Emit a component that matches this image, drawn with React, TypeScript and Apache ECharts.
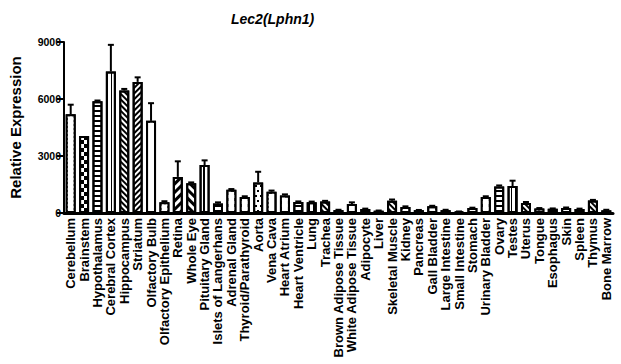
import React, { useEffect, useRef } from "react";
import * as echarts from "echarts";

const categories = [
  "Cerebellum", "Brainstem", "Hypothalamus", "Cerebral Cortex", "Hippocampus", "Striatum",
  "Olfactory Bulb", "Olfactory Epithelium", "Retina", "Whole Eye", "Pituitary Gland",
  "Islets of Langerhans", "Adrenal Gland", "Thyroid/Parathyroid", "Aorta", "Vena Cava",
  "Heart Atrium", "Heart Ventricle", "Lung", "Trachea", "Brown Adipose Tissue",
  "White Adipose Tissue", "Adipocyte", "Liver", "Skeletal Muscle", "Kidney", "Pancreas",
  "Gall Bladder", "Large Intestine", "Small Intestine", "Stomach", "Urinary Bladder",
  "Ovary", "Testes", "Uterus", "Tongue", "Esophagus", "Skin", "Spleen", "Thymus", "Bone Marrow",
];

const values = [
  5200, 4050, 5880, 7450, 6450, 6900, 4850, 560, 1900, 1560, 2520,
  500, 1220, 840, 1610, 1120, 920, 580, 570, 610, 150,
  470, 210, 120, 650, 310, 150, 350, 150, 70, 260, 840,
  1400, 1420, 520, 240, 220, 260, 210, 660, 140,
];

const errors = [
  500, 0, 40, 1400, 80, 240, 930, 60, 820, 50, 250,
  60, 40, 40, 560, 60, 60, 30, 30, 30, 20,
  90, 20, 10, 60, 40, 10, 30, 20, 10, 20, 40,
  50, 280, 60, 20, 20, 30, 20, 30, 30,
];

const yTicks = [0, 3000, 6000, 9000];

// fill styles (one per bar)
const patternNames = [
  "fineChecker", "checker", "hstripe", "vthin", "diagR", "diagL", "grid", "fineChecker",
  "wideDiagL", "wideDiagR", "vstripe", "hstripe", "blocks", "blocks", "dots", "denseDots",
  "blocks", "hstripe", "vstripe", "diagR", "solid", "grid", "hstripe", "solid", "diagR",
  "grid", "hstripe", "grid", "hstripe", "solid", "grid", "blocks", "hstripe", "vthin",
  "diagR", "grid", "hstripe", "grid", "hstripe", "diagR", "solid",
];

function decalFor(name: string): any {
  const k = "#000";
  switch (name) {
    case "fineChecker":
      return { symbol: "rect", symbolSize: 1, color: "#fff", backgroundColor: k, dashArrayX: [[1.5, 1.5], [0, 1.5, 1.5, 0]], dashArrayY: [1.5, 0] };
    case "checker":
      return { symbol: "rect", symbolSize: 1, color: k, backgroundColor: "#fff", dashArrayX: [[4, 4], [0, 4, 4, 0]], dashArrayY: [4, 0] };
    case "hstripe":
      return { symbol: "rect", symbolSize: 1, color: k, dashArrayX: [1, 0], dashArrayY: [2, 2.5] };
    case "vstripe":
      return { symbol: "rect", symbolSize: 1, color: k, dashArrayX: [1, 0], dashArrayY: [2, 2.5], rotation: Math.PI / 2 };
    case "vthin":
      return { symbol: "rect", symbolSize: 1, color: k, dashArrayX: [1, 0], dashArrayY: [1, 3], rotation: Math.PI / 2 };
    case "diagR":
      return { symbol: "rect", symbolSize: 1, color: k, dashArrayX: [1, 0], dashArrayY: [1.5, 1.8], rotation: Math.PI / 4 };
    case "diagL":
      return { symbol: "rect", symbolSize: 1, color: k, dashArrayX: [1, 0], dashArrayY: [1.5, 1.8], rotation: -Math.PI / 4 };
    case "wideDiagL":
      return { symbol: "rect", symbolSize: 1, color: k, dashArrayX: [1, 0], dashArrayY: [3, 3], rotation: -Math.PI / 4 };
    case "wideDiagR":
      return { symbol: "rect", symbolSize: 1, color: k, dashArrayX: [1, 0], dashArrayY: [3, 3], rotation: Math.PI / 4 };
    case "grid":
      return { symbol: "rect", symbolSize: 1, color: "#fff", backgroundColor: k, dashArrayX: [3, 1.5], dashArrayY: [3, 1.5] };
    case "blocks":
      return { symbol: "rect", symbolSize: 1, color: "#fff", backgroundColor: k, dashArrayX: [[3, 3], [0, 3, 3, 0]], dashArrayY: [3, 0] };
    case "dots":
      return { symbol: "rect", symbolSize: 1, color: k, backgroundColor: "#fff", dashArrayX: [[1.2, 3], [0, 2, 1.2, 1]], dashArrayY: [1.2, 2.5] };
    case "denseDots":
      return { symbol: "rect", symbolSize: 1, color: "#fff", backgroundColor: k, dashArrayX: [[1.2, 2], [0, 1.6, 1.2, 0.4]], dashArrayY: [1.2, 1.2] };
    case "solid":
    default:
      return { symbol: "rect", symbolSize: 1, color: k, dashArrayX: [1, 0], dashArrayY: [1, 0] };
  }
}

const FONT = "'Liberation Sans', Arial, sans-serif";

export default function App() {
  const ref = useRef<HTMLDivElement>(null);

  useEffect(() => {
    if (!ref.current) return;
    const chart = echarts.init(ref.current, undefined, { renderer: "svg" });

    const barData = values.map((v, i) => ({
      value: v,
      itemStyle: { decal: decalFor(patternNames[i]) },
    }));
    const errData = values.map((v, i) => [i, v, errors[i]]);

    chart.setOption({
      animation: false,
      backgroundColor: "#fff",
      textStyle: { fontFamily: FONT },
      title: {
        text: "Lec2(Lphn1)",
        left: 226,
        top: 7,
        textStyle: { fontFamily: FONT, fontSize: 14, fontWeight: "bold", fontStyle: "italic", color: "#000" },
      },
      grid: { left: 61, right: 8, top: 42, bottom: 151, containLabel: false },
      xAxis: {
        type: "category",
        data: categories,
        axisLine: { lineStyle: { color: "#000", width: 3 } },
        axisTick: { alignWithLabel: true, length: 5, lineStyle: { color: "#000", width: 2 } },
        axisLabel: {
          interval: 0,
          rotate: 90,
          margin: 5,
          fontFamily: FONT,
          fontSize: 13,
          fontWeight: "bold",
          color: "#000",
        },
      },
      yAxis: {
        type: "value",
        min: 0,
        max: 9000,
        interval: 3000,
        name: "Relative Expression",
        nameLocation: "middle",
        nameGap: 41,
        nameRotate: 90,
        nameTextStyle: { fontFamily: FONT, fontSize: 15, fontWeight: "bold", color: "#000" },
        splitLine: { show: false },
        axisLine: { show: true, lineStyle: { color: "#000", width: 2 } },
        axisTick: { show: true, length: 7, lineStyle: { color: "#000", width: 2 } },
        axisLabel: {
          margin: 3,
          fontFamily: FONT,
          fontSize: 10.5,
          fontWeight: "bold",
          color: "#000",
          formatter: (v: number) => (yTicks.includes(v) ? String(v) : ""),
        },
      },
      series: [
        {
          type: "bar",
          data: barData,
          barWidth: 10,
          itemStyle: { color: "#fff", borderColor: "#000", borderWidth: 2 },
          z: 2,
        },
        {
          type: "custom",
          data: errData,
          encode: { x: 0, y: 1 },
          z: 3,
          renderItem: (params: any, api: any) => {
            const i = api.value(0);
            const v = api.value(1);
            const e = api.value(2);
            if (!e) return null;
            const base = api.coord([i, v]);
            const top = api.coord([i, v + e]);
            const hw = 3;
            return {
              type: "group",
              children: [
                {
                  type: "line",
                  shape: { x1: base[0], y1: base[1], x2: top[0], y2: top[1] },
                  style: { stroke: "#000", lineWidth: 2 },
                },
                {
                  type: "line",
                  shape: { x1: top[0] - hw, y1: top[1], x2: top[0] + hw, y2: top[1] },
                  style: { stroke: "#000", lineWidth: 2 },
                },
              ],
            };
          },
        },
      ],
    });

    return () => chart.dispose();
  }, []);

  return (
    <div
      ref={ref}
      style={{ position: "fixed", left: 0, top: 0, width: 621, height: 364, background: "#fff" }}
    />
  );
}
